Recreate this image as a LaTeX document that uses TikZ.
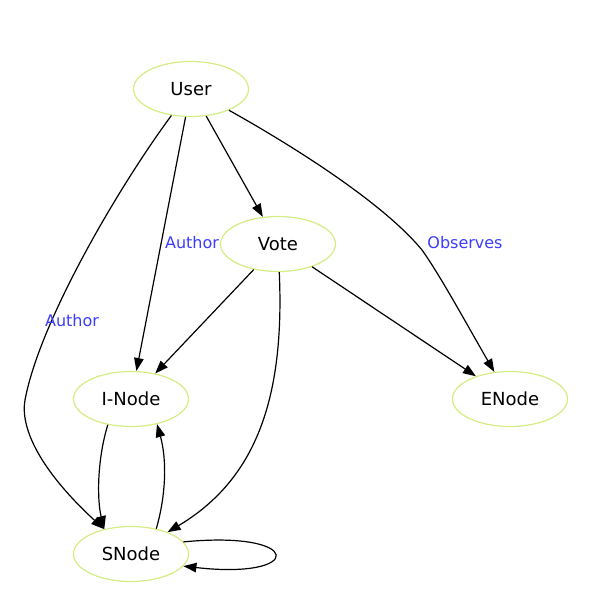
\documentclass[tikz,border=0pt]{standalone}
\usepackage{fontspec}
\setmainfont{DejaVu Sans}
\usetikzlibrary{shapes.geometric,arrows.meta}
\definecolor{nodeline}{RGB}{212,236,132}
\definecolor{lblblue}{RGB}{60,60,255}
\tikzset{
  gnode/.style={ellipse, draw=nodeline, line width=1.2pt, minimum width=115pt, minimum height=55pt, inner sep=0pt, font=\fontsize{18}{21}\selectfont},
  edge/.style={draw=black, line width=1.2pt, -{Triangle[length=13pt,width=9.5pt]}},
  elabel/.style={text=lblblue, font=\fontsize{16}{19}\selectfont, inner sep=0pt}
}
\begin{document}
\begin{tikzpicture}[x=1pt,y=-1pt]
\useasboundingbox (0,0) rectangle (592,608);
\node[gnode] (User) at (191,89) {User};
\node[gnode] (Vote) at (278,244) {Vote};
\node[gnode] (INode) at (131,399) {I-Node};
\node[gnode] (ENode) at (510,399) {ENode};
\node[gnode] (SNode) at (131,554) {SNode};
\coordinate (c1) at (25,400);
\coordinate (c2) at (422,250);
% User -> SNode
\draw[edge] (User) .. controls (120,185) and (40,320) .. (c1) .. controls (20,428) and (40,470) .. (SNode);
\node[elabel] (l1) at (72,321) {Author};
% User -> I-Node
\draw[edge] (User) -- (INode);
\node[elabel] (l2) at (192,243) {Author};
% User -> Vote
\draw[edge] (User) -- (Vote);
% User -> ENode
\draw[edge] (User) .. controls (300,150) and (385,205) .. (c2) .. controls (440,275) and (470,330) .. (ENode);
\node[elabel] (l3) at (465,243) {Observes};
% Vote -> I-Node
\draw[edge] (Vote) -- (INode);
% Vote -> ENode
\draw[edge] (Vote) -- (ENode);
% Vote -> SNode
\draw[edge] (Vote) .. controls (285,400) and (255,480) .. (SNode);
% I-Node -> SNode
\draw[edge] (INode.228) .. controls (97,460) and (97,500) .. (SNode.137);
% SNode -> I-Node
\draw[edge] (SNode.45) .. controls (166,495) and (167,460) .. (INode.-44);
% SNode self loop
\draw[edge] (SNode.13) .. controls (305,530) and (305,580) .. (SNode.-13);
\end{tikzpicture}
\end{document}
